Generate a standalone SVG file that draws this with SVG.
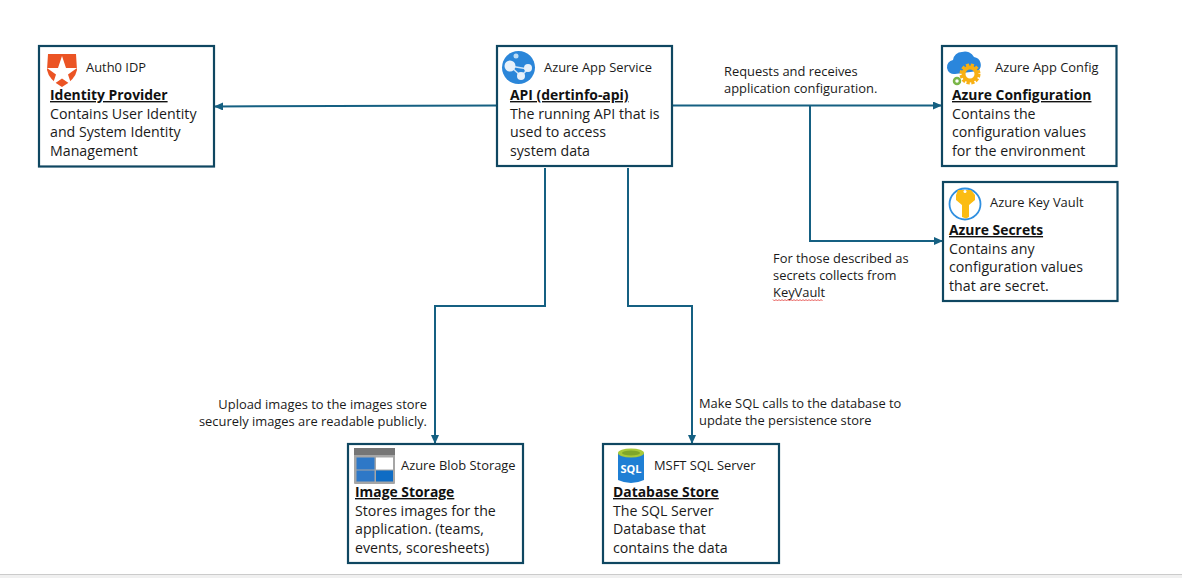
<svg xmlns="http://www.w3.org/2000/svg" width="1182" height="578" viewBox="0 0 1182 578">
<style>
text{font-family:"Open Sans","Noto Sans","Liberation Sans",sans-serif;font-size:14.2px;fill:#1a1a1a}
.s{font-size:12.9px}
.h{font-weight:700;text-decoration:underline;font-size:13.9px;fill:#111}
.box{fill:#fff;stroke:#0f4761;stroke-width:2.2}
.c{fill:none;stroke:#156082;stroke-width:2}
</style>
<defs>
<marker id="a" markerWidth="9" markerHeight="8" refX="8" refY="4" orient="auto" markerUnits="userSpaceOnUse"><path d="M0 0L9 4L0 8z" fill="#156082"/></marker>
</defs>
<rect x="0" y="0" width="1182" height="578" fill="#fff"/>
<rect x="0" y="574" width="1182" height="4" fill="#f0f0f0"/>
<rect x="0" y="574" width="1182" height="1" fill="#cbcbcb"/>
<g id="connectors">
<path class="c" d="M497 105.500L215 106.500" marker-end="url(#a)"/>
<path class="c" d="M672 105.500H941" marker-end="url(#a)"/>
<path class="c" d="M810 105.500V241H942" marker-end="url(#a)"/>
<path class="c" d="M545 168V306H435V443" marker-end="url(#a)"/>
<path class="c" d="M628 168V306H692V443" marker-end="url(#a)"/>
</g>
<g id="labels">
<text x="724" y="76" class="s">Requests and receives</text>
<text x="724" y="93" class="s">application configuration.</text>
<text x="773" y="263" class="s">For those described as</text>
<text x="773" y="280" class="s">secrets collects from</text>
<text x="773" y="297" class="s">KeyVault</text>
<path d="M773 299.500l1.500 1.500 1.500-1.500 1.500 1.500 1.500-1.500 1.500 1.500 1.500-1.500 1.500 1.500 1.500-1.500 1.500 1.500 1.500-1.500 1.500 1.500 1.500-1.500 1.500 1.500 1.500-1.500 1.500 1.500 1.500-1.500 1.500 1.500 1.500-1.500 1.500 1.500 1.500-1.500 1.500 1.500 1.500-1.500 1.500 1.500 1.500-1.500 1.500 1.500 1.500-1.500 1.500 1.500 1.500-1.500 1.500 1.500 1.500-1.500 1.500 1.500 1.500-1.500 1.500 1.500" fill="none" stroke="#e0302c" stroke-width=".8"/>
<text x="427" y="409" class="s" text-anchor="end">Upload images to the images store</text>
<text x="427" y="426" class="s" text-anchor="end">securely images are readable publicly.</text>
<text x="699" y="408" class="s">Make SQL calls to the database to</text>
<text x="699" y="425" class="s">update the persistence store</text>
</g>
<g id="auth0">
<rect class="box" x="39" y="46" width="175" height="120.500"/>
<path d="M48 54H76L77 70Q75 80 62 87Q49 80 47 70Z" fill="#eb5424"/>
<path d="M62 56l4 12H77l-9 6.500 3.500 10.500-9.500-6.500-9.500 6.500 3.500-10.500-9-6.500H58z" fill="#fff"/>
<text x="86" y="72" class="s">Auth0 IDP</text>
<text x="50" y="100" class="h">Identity Provider</text>
<text x="50" y="119">Contains User Identity</text>
<text x="50" y="137">and System Identity</text>
<text x="50" y="156">Management</text>
</g>
<g id="api">
<rect class="box" x="497" y="46" width="175" height="120"/>
<circle cx="518.500" cy="67.500" r="16.500" fill="#2b86d9"/>
<path d="M510 66L528 69L521 76Z" fill="none" stroke="#cfe4f7" stroke-width="1.500"/>
<circle cx="510" cy="66" r="5.500" fill="#e8f1fa"/>
<circle cx="528" cy="68" r="4" fill="#e8f1fa"/>
<circle cx="521" cy="76" r="4" fill="#e8f1fa"/>
<circle cx="516" cy="56" r="2.500" fill="#bcdcf5"/>
<text x="544" y="72" class="s">Azure App Service</text>
<text x="510" y="100" class="h">API (dertinfo-api)</text>
<text x="510" y="119">The running API that is</text>
<text x="510" y="137">used to access</text>
<text x="510" y="156">system data</text>
</g>
<g id="appconfig">
<rect class="box" x="942" y="46" width="174.500" height="120"/>
<path d="M955 74a7 7 0 0 1-2-14 9 9 0 0 1 9-8 10 10 0 0 1 12 5 8 8 0 0 1 4 14z" fill="#2a86dc"/>
<circle cx="970" cy="74" r="8.500" fill="none" stroke="#f8b012" stroke-width="4" stroke-dasharray="3 1.500"/>
<circle cx="970" cy="74" r="6.500" fill="none" stroke="#f8b012" stroke-width="4"/>
<circle cx="957" cy="81" r="3" fill="none" stroke="#7ab648" stroke-width="2.500"/>
<text x="995" y="72" class="s">Azure App Config</text>
<text x="952" y="100" class="h">Azure Configuration</text>
<text x="952" y="119">Contains the</text>
<text x="952" y="137">configuration values</text>
<text x="952" y="156">for the environment</text>
</g>
<g id="keyvault">
<rect class="box" x="943" y="182" width="174.500" height="119"/>
<circle cx="965" cy="204" r="15.500" fill="#fff" stroke="#2f8fe0" stroke-width="1.800"/>
<path d="M958 190h13l4 5v5l-6 5v12l-3 1.500-4-1.500v-12l-6-5v-5z" fill="#fbbc13"/>
<circle cx="965" cy="191.500" r="1.500" fill="#fff"/>
<text x="990" y="207" class="s">Azure Key Vault</text>
<text x="949" y="235" class="h">Azure Secrets</text>
<text x="949" y="254">Contains any</text>
<text x="949" y="272">configuration values</text>
<text x="949" y="291">that are secret.</text>
</g>
<g id="blob">
<rect class="box" x="348" y="444" width="175" height="119"/>
<rect x="354" y="448" width="41" height="36" rx="1" fill="#a6a6a6"/>
<rect x="354" y="448" width="41" height="7" fill="#767676"/>
<rect x="356.500" y="457.500" width="18" height="12" fill="#2e78c7"/>
<rect x="376" y="457.500" width="17" height="12" fill="#fff"/>
<rect x="356.500" y="470.500" width="18" height="11" fill="#2e78c7"/>
<rect x="376" y="470.500" width="17" height="11" fill="#0f6cc4"/>
<text x="401" y="470" class="s">Azure Blob Storage</text>
<text x="355" y="497" class="h">Image Storage</text>
<text x="355" y="516">Stores images for the</text>
<text x="355" y="534">application. (teams,</text>
<text x="355" y="553">events, scoresheets)</text>
</g>
<g id="sql">
<rect class="box" x="603" y="444" width="176" height="119"/>
<path d="M618 453V480Q631 486 644 480V453Z" fill="#1f7fd4"/>
<ellipse cx="631" cy="453" rx="13" ry="4.500" fill="#a8c93a"/>
<ellipse cx="631" cy="453" rx="9" ry="2.500" fill="#7fa62a"/>
<text x="631" y="473" text-anchor="middle" style="font-size:11px;font-weight:700;fill:#fff">SQL</text>
<text x="654" y="470" class="s">MSFT SQL Server</text>
<text x="613" y="497" class="h">Database Store</text>
<text x="613" y="516">The SQL Server</text>
<text x="613" y="534">Database that</text>
<text x="613" y="553">contains the data</text>
</g>
</svg>
